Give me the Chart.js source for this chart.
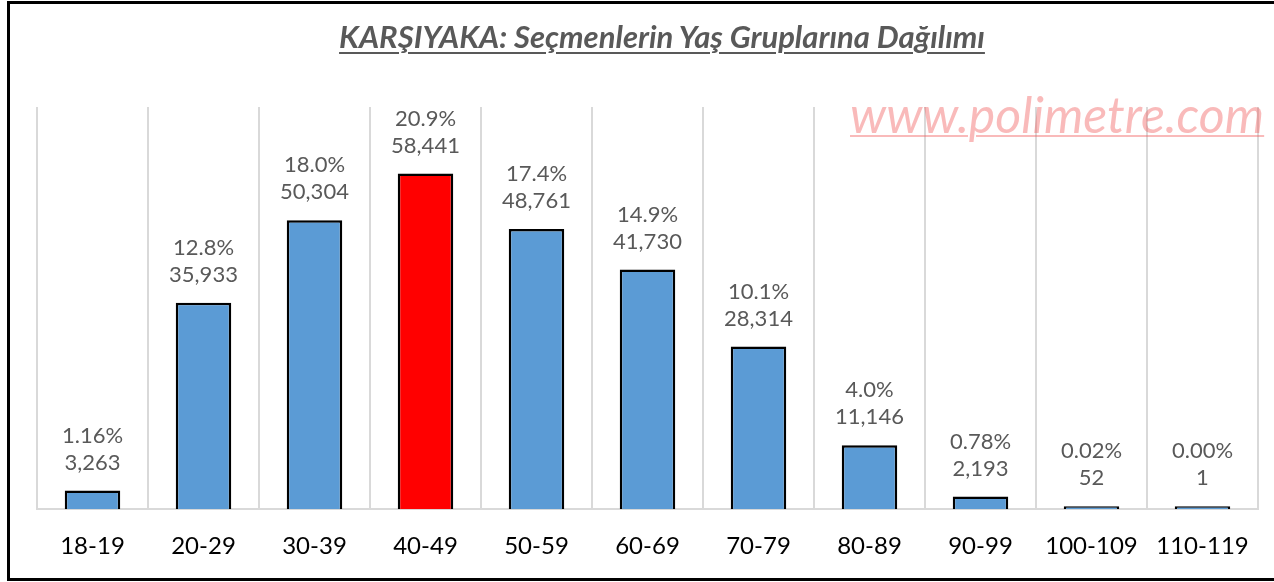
<!DOCTYPE html>
<html>
<head>
<meta charset="utf-8">
<script src="https://cdn.jsdelivr.net/npm/chart.js@4.4.0/dist/chart.umd.min.js"></script>
<style>
  html, body { margin: 0; padding: 0; background: #fff; }
  #wrap { position: relative; width: 1274px; height: 582px; overflow: hidden; }
  #frame { position: absolute; left: 7px; top: 1px; width: 1280px; height: 574px; border: 3px solid #000; box-sizing: content-box; }
  #title { position: absolute; left: 25px; width: 1274px; top: 16px; text-align: center;
    font: italic bold 31px Lato, "Open Sans", sans-serif; color: #595959; text-decoration: underline;
    text-decoration-thickness: 2px; text-underline-offset: 4px; line-height: 40px; }
  #mark { position: absolute; left: 850px; top: 88px; font: italic 50px Lato, "Open Sans", sans-serif;
    color: rgba(240, 90, 90, 0.42); text-decoration: underline; text-decoration-thickness: 2px;
    text-underline-offset: 2px; line-height: 52px; white-space: nowrap; }
  canvas { position: absolute; left: 0; top: 0; }
</style>
</head>
<body>
<div id="wrap">
  <canvas id="c" width="1274" height="584"></canvas>
  <div id="frame"></div>
  <div id="title">KARŞIYAKA: Seçmenlerin Yaş Gruplarına Dağılımı</div>
  <div id="mark">www.polimetre.com</div>
</div>
<script>
  const ageGroups = ['18-19', '20-29', '30-39', '40-49', '50-59', '60-69', '70-79', '80-89', '90-99', '100-109', '110-119'];
  const voters = [3263, 35933, 50304, 58441, 48761, 41730, 28314, 11146, 2193, 52, 1];
  const shares = ['1.16%', '12.8%', '18.0%', '20.9%', '17.4%', '14.9%', '10.1%', '4.0%', '0.78%', '0.02%', '0.00%'];
  const highlight = '40-49';

  // two-line labels above each bar: share, then count
  const barLabels = {
    id: 'barLabels',
    afterDatasetsDraw(chart) {
      const ctx = chart.ctx;
      const meta = chart.getDatasetMeta(0);
      ctx.save();
      ctx.fillStyle = '#595959';
      ctx.font = '22px Lato, "Open Sans", sans-serif';
      ctx.textAlign = 'center';
      ctx.textBaseline = 'middle';
      meta.data.forEach((bar, i) => {
        ctx.fillText(voters[i].toLocaleString('en-US'), bar.x, bar.y - 28);
        ctx.fillText(shares[i], bar.x, bar.y - 55);
      });
      ctx.restore();
    }
  };

  new Chart(document.getElementById('c'), {
    type: 'bar',
    data: {
      labels: ageGroups,
      datasets: [{
        data: voters,
        backgroundColor: ageGroups.map(g => g === highlight ? '#ff0000' : '#5b9bd5'),
        borderColor: '#000',
        borderWidth: 2.5,
        minBarLength: 3,
        barPercentage: 0.5,
        categoryPercentage: 1
      }]
    },
    options: {
      responsive: false,
      animation: false,
      layout: { padding: { left: 37, right: 16, top: 107, bottom: 0 } },
      plugins: { legend: { display: false }, tooltip: { enabled: false } },
      scales: {
        y: { display: false, min: 0, max: 70000 },
        x: {
          grid: { color: '#d9d9d9', lineWidth: 2, drawTicks: false },
          border: { color: '#d9d9d9', width: 2 },
          ticks: { color: '#000', padding: 23, font: { family: 'Lato, "Open Sans", sans-serif', size: 24 } }
        }
      }
    },
    plugins: [barLabels]
  });
</script>
</body>
</html>
